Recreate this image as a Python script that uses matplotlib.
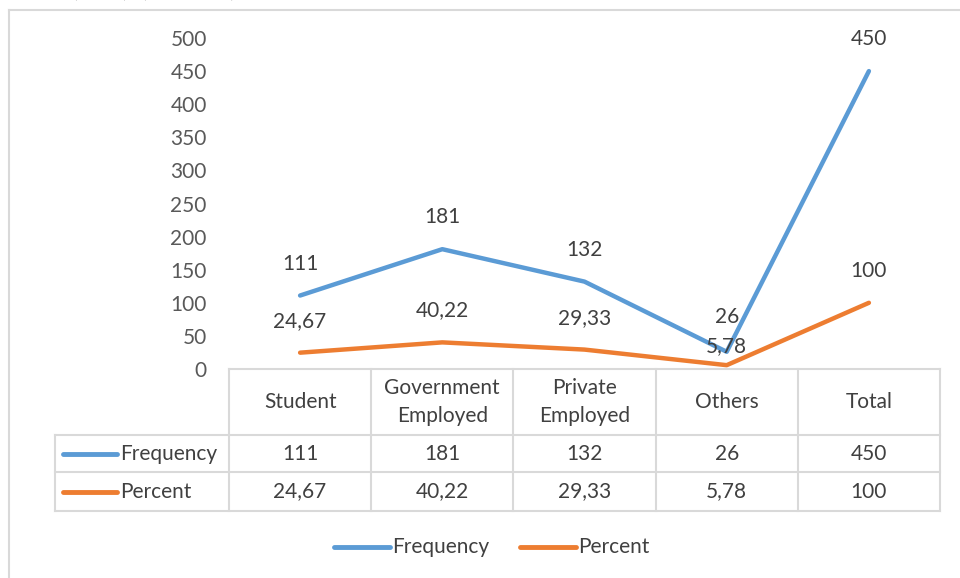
import matplotlib.pyplot as plt
from matplotlib.lines import Line2D

categories = ["Student", "Government\nEmployed", "Private\nEmployed", "Others", "Total"]
frequency = [111, 181, 132, 26, 450]
percent = [24.67, 40.22, 29.33, 5.78, 100]
freq_labels = ["111", "181", "132", "26", "450"]
pct_labels = ["24,67", "40,22", "29,33", "5,78", "100"]
series_names = ["Frequency", "Percent"]
y_ticks = [0, 50, 100, 150, 200, 250, 300, 350, 400, 450, 500]

BLUE = "#5B9BD5"
ORANGE = "#ED7D31"
TICK = "#595959"
TXT = "#404040"
GRID = "#D9D9D9"
FS = 15

plt.rcParams["font.family"] = ["Lato", "DejaVu Sans"]

W, H = 960, 578
fig = plt.figure(figsize=(W / 100, H / 100), dpi=100)

# pixel overlay for frame, table and legend
bg = fig.add_axes([0, 0, 1, 1])
bg.set_xlim(0, W)
bg.set_ylim(H, 0)
bg.axis("off")


def hline(y, xa, xb, color=GRID, lw=1.5):
    bg.add_line(Line2D([xa, xb], [y, y], color=color, lw=lw))


def vline(x, ya, yb, color=GRID, lw=1.5):
    bg.add_line(Line2D([x, x], [ya, yb], color=color, lw=lw))


# outer chart frame (cropped)
hline(10, 9, W)
vline(9, 10, H)

# caption line above the chart, cut off by the top edge as in the source
bg.text(28, -4, "age (n, %) (Figure 3)", family="Liberation Serif", fontsize=18,
        color="black", va="baseline", clip_on=False)

# plot area
x0, x1, ytop, ybot = 229, 940, 38, 369
ax = fig.add_axes([x0 / W, 1 - ybot / H, (x1 - x0) / W, (ybot - ytop) / H])
ax.set_zorder(2)
ax.patch.set_visible(False)
n = len(categories)
xs = list(range(n))
ax.set_xlim(-0.5, n - 0.5)
ax.set_ylim(0, 500)

ax.plot(xs, frequency, color=BLUE, lw=3.2, solid_capstyle="round",
        solid_joinstyle="round", clip_on=False)
ax.plot(xs, percent, color=ORANGE, lw=3.2, solid_capstyle="round",
        solid_joinstyle="round", clip_on=False)

label_off = {("p", 3): 14, ("f", 3): 25}
for i in xs:
    ax.annotate(freq_labels[i], (i, frequency[i]), xytext=(0, label_off.get(("f", i), 23)),
                textcoords="offset points", ha="center", va="center", fontsize=FS, color=TXT)
    ax.annotate(pct_labels[i], (i, percent[i]), xytext=(0, label_off.get(("p", i), 23)),
                textcoords="offset points", ha="center", va="center", fontsize=FS, color=TXT)

for s in ax.spines.values():
    s.set_visible(False)
ax.set_xticks([])
ax.set_yticks(y_ticks)
ax.tick_params(axis="y", length=0, pad=16, labelsize=FS, labelcolor=TICK)

# data table
cw = (x1 - x0) / n
edges = [x0 + i * cw for i in range(n + 1)]
row_y = [369, 435, 472, 511]
left = 55

hline(row_y[0], x0, x1)
for y in row_y[1:]:
    hline(y, left, x1)
for x in edges:
    vline(x, row_y[0], row_y[-1])
vline(left, row_y[1], row_y[-1])

hy = (row_y[0] + row_y[1]) / 2
for i, c in enumerate(categories):
    bg.text(edges[i] + cw / 2, hy, c, ha="center", va="center", fontsize=FS,
            color=TXT, linespacing=1.45)

for r, (name, color, vals) in enumerate(zip(series_names, [BLUE, ORANGE],
                                              [freq_labels, pct_labels])):
    cy = (row_y[r + 1] + row_y[r + 2]) / 2
    bg.add_line(Line2D([63, 117], [cy, cy], color=color, lw=3.5, solid_capstyle="round"))
    bg.text(120, cy, name, ha="left", va="center", fontsize=FS, color=TXT)
    for i, v in enumerate(vals):
        bg.text(edges[i] + cw / 2, cy, v, ha="center", va="center", fontsize=FS, color=TXT)

# legend
ly = 547
for xk, name, color in [(334, series_names[0], BLUE), (520, series_names[1], ORANGE)]:
    bg.add_line(Line2D([xk, xk + 56], [ly, ly], color=color, lw=3.5, solid_capstyle="round"))
    bg.text(xk + 58, ly, name, ha="left", va="center", fontsize=FS, color=TXT)

fig.savefig("out.png", dpi=100)
